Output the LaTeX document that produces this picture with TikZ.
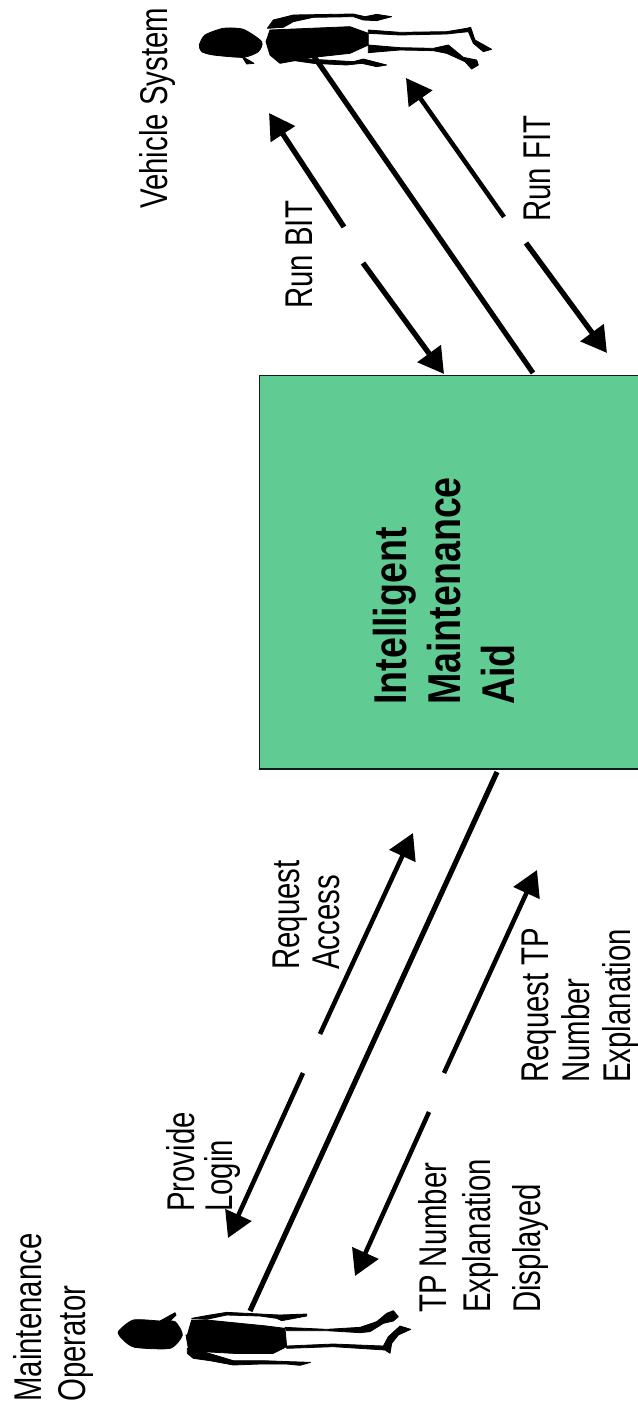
\documentclass[tikz,border=0pt]{standalone}
\usepackage{fontspec}
\setmainfont{Liberation Sans}
\newfontfamily\labfont[FakeStretch=0.76]{Liberation Sans}
\newfontfamily\titlefont[FakeStretch=0.817]{Liberation Sans Bold}
\usetikzlibrary{arrows.meta}
\definecolor{boxgreen}{HTML}{60CB92}
\tikzset{
 lab/.style={rotate=90,anchor=north west,align=left,inner sep=0pt,font=\labfont\fontsize{29pt}{#1}\selectfont},
 flow/.style={line width=3.4pt,-{Triangle[length=19pt,width=21pt]}},
 flowheavy/.style={flow,line width=4pt},
 link/.style={line width=3.9pt},
 fig/.style={fill=black,draw=black,line width=0.6pt,line join=round},
}
\begin{document}
\begin{tikzpicture}[x=0.75pt,y=-0.75pt]
\useasboundingbox (0,0) rectangle (638,1409);
\node[draw=black!85!boxgreen,line width=1pt,fill=boxgreen,minimum width=285pt,minimum height=295pt,inner sep=0pt,anchor=north west] (ima) at (259,375) {};
\node[rotate=90,anchor=north west,align=left,inner sep=0pt,font=\titlefont\fontsize{34.5pt}{40.5pt}\selectfont] (title) at (373,705) {Intelligent\\Maintenance\\Aid};
% Vehicle figure
\begin{scope}[shift={(180,0)},x=0.25pt,y=-0.25pt]
\path[fig] plot[smooth cycle,tension=.4] coordinates {(58,135)(75,105)(130,85)(190,88)(245,125)(235,155)(190,172)(100,165)(65,155)};
\path[fig] (185,168)--(222,190)--(200,192)--cycle;
\path[fig] (262,85)--(280,60)--(340,45)--(520,42)--(555,50)--(590,43)--(635,50)--(590,62)--(550,60)--(520,50)--(400,52)--(340,65)--(310,82)--cycle;
\path[fig] (258,125)--(270,90)--(510,80)--(565,100)--(565,135)--(510,160)--(400,172)--(300,190)--(270,165)--cycle;
\path[fig] (320,175)--(400,178)--(520,185)--(550,177)--(620,195)--(590,200)--(545,190)--(500,195)--(400,190)--(330,180)--cycle;
\path[fig] (565,90)--(660,97)--(800,95)--(860,85)--(872,82)--(885,120)--(935,148)--(910,155)--(880,130)--(865,95)--(800,102)--(660,105)--(565,100)--cycle;
\path[fig] (565,135)--(660,143)--(760,145)--(805,135)--(850,172)--(890,180)--(895,195)--(875,207)--(855,185)--(800,160)--(760,152)--(660,150)--(565,158)--cycle;
\end{scope}
% Operator figure
\begin{scope}[shift={(100,1240)},x=0.25pt,y=-0.25pt]
\path[fig] plot[smooth cycle,tension=.4] coordinates {(55,275)(100,240)(180,243)(225,245)(247,285)(210,325)(105,322)(70,300)};
\path[fig] (180,243)--(225,218)--(228,225)--(205,248)--cycle;
\path[fig] (275,235)--(330,225)--(380,217)--(540,225)--(620,222)--(620,228)--(545,242)--(530,235)--(480,228)--(380,225)--(320,238)--cycle;
\path[fig] (262,285)--(275,240)--(320,240)--(400,248)--(500,258)--(555,265)--(560,320)--(520,340)--(400,340)--(310,335)--(265,325)--(258,285)--cycle;
\path[fig] (555,262)--(680,268)--(780,262)--(830,245)--(860,220)--(880,212)--(895,230)--(880,243)--(850,250)--(810,275)--(780,278)--(680,272)--(560,272)--cycle;
\path[fig] (560,318)--(700,312)--(850,318)--(865,290)--(900,258)--(932,268)--(895,285)--(875,310)--(870,340)--(855,330)--(700,320)--(560,325)--cycle;
\path[fig] (262,325)--(310,335)--(400,362)--(490,362)--(570,365)--(632,367)--(600,376)--(560,372)--(480,372)--(400,375)--(330,362)--(280,355)--(262,340)--cycle;
\end{scope}
% coordinates
\coordinate (veh) at (313,55);
\coordinate (op) at (250,1311);
\coordinate (imaV) at (533,373);
\coordinate (imaO) at (497,772);
\coordinate (a1s) at (344,227); \coordinate (a1e) at (269,113);
\coordinate (a2s) at (363,263); \coordinate (a2e) at (444,374);
\coordinate (a3s) at (504,217); \coordinate (a3e) at (406,78);
\coordinate (a4s) at (526,243); \coordinate (a4e) at (607,353);
\coordinate (a5s) at (320,1034); \coordinate (a5e) at (413,833);
\coordinate (a6s) at (303,1073); \coordinate (a6e) at (228,1238);
\coordinate (a7s) at (444,1073); \coordinate (a7e) at (537,870);
\coordinate (a8s) at (429,1112); \coordinate (a8e) at (355,1276);
\draw[link] (veh) -- (imaV);
\draw[link] (op) -- (imaO);
\draw[flowheavy] (a1s) -- (a1e);
\draw[flowheavy] (a2s) -- (a2e);
\draw[flow] (a3s) -- (a3e);
\draw[flowheavy] (a4s) -- (a4e);
\draw[flow] (a5s) -- (a5e);
\draw[flow] (a6s) -- (a6e);
\draw[flow] (a7s) -- (a7e);
\draw[flow] (a8s) -- (a8e);
% labels
\node[lab=33pt] (vs) at (139,209) {Vehicle System};
\node[lab=33pt] (bit) at (286,309) {Run BIT};
\node[lab=33pt] (fit) at (524,222) {Run FIT};
\node[lab=33pt] (mo) at (13,1402) {Maintenance\\Operator};
\node[lab=28.5pt] (pl) at (166,1212) {Provide\\Login};
\node[lab=30pt] (ra) at (273,970) {Request\\Access};
\node[lab=30.5pt] (rt) at (522,1083) {Request TP\\Number\\Explanation};
\node[lab=33pt] (tp) at (418,1313) {TP Number\\Explanation\\[4.5pt]Displayed};
\end{tikzpicture}
\end{document}
